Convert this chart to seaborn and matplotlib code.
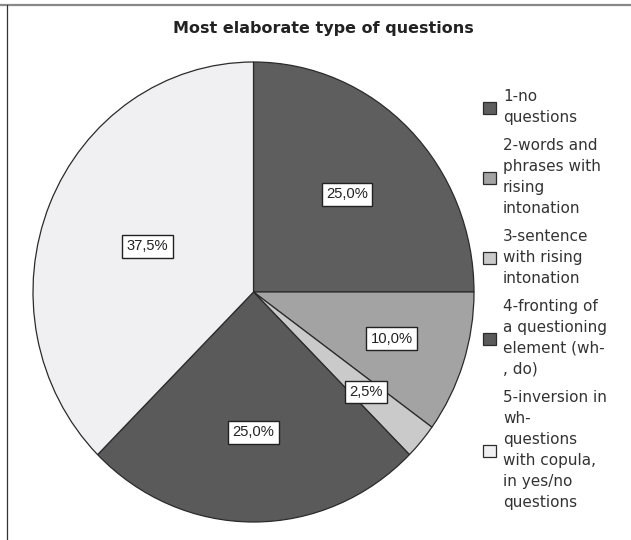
import matplotlib
matplotlib.use("Agg")
import matplotlib.pyplot as plt
from matplotlib.lines import Line2D
import numpy as np
import seaborn as sns

# data
categories = [
    "1-no\nquestions",
    "2-words and\nphrases with\nrising\nintonation",
    "3-sentence\nwith rising\nintonation",
    "4-fronting of\na questioning\nelement (wh-\n, do)",
    "5-inversion in\nwh-\nquestions\nwith copula,\nin yes/no\nquestions",
]
shares = [25.0, 10.0, 2.5, 25.0, 37.5]
pct_labels = ["25,0%", "10,0%", "2,5%", "25,0%", "37,5%"]

# styling
colors = ["#5e5e5e", "#a3a3a3", "#cacaca", "#5a5a5a", "#f0f0f2"]
label_dist = [0.60, 0.66, 0.67, 0.61, 0.52]

sns.set_style("white")
plt.rcParams["font.family"] = ["DejaVu Sans"]

W, H = 631, 540
fig = plt.figure(figsize=(W / 100, H / 100), dpi=100)

# pie area in pixels (slightly taller than wide, as in the picture)
cx, cy, rx, ry = 253.5, 292, 220.5, 230
ax = fig.add_axes([(cx - rx) / W, 1 - (cy + ry) / H, 2 * rx / W, 2 * ry / H])

wedges, _ = ax.pie(shares, colors=colors, startangle=90, counterclock=False,
                   wedgeprops=dict(edgecolor="#2b2b2b", linewidth=0.9))
ax.set_aspect("auto")
ax.set_xlim(-1, 1)
ax.set_ylim(-1, 1)

# percentage boxes placed along each wedge's middle angle
for w, lab, d in zip(wedges, pct_labels, label_dist):
    mid = np.deg2rad((w.theta1 + w.theta2) / 2)
    ax.text(d * np.cos(mid), d * np.sin(mid), lab, ha="center", va="center",
            fontsize=10.6, family=["Liberation Sans", "DejaVu Sans"], color="#222222",
            bbox=dict(boxstyle="square,pad=0.3", facecolor="white",
                      edgecolor="#222222", linewidth=1.0))

leg = ax.legend(wedges, categories, loc="upper left",
                bbox_to_anchor=(483 / W, 1 - 89 / H), bbox_transform=fig.transFigure,
                frameon=False, fontsize=11, handlelength=0.85, handleheight=0.85,
                handletextpad=0.45, labelspacing=0.85, borderpad=0, borderaxespad=0)
for t in leg.get_texts():
    t.set_linespacing(1.5)
    t.set_color("#333333")

fig.text(323.5 / W, 1 - 28 / H, "Most elaborate type of questions",
         ha="center", va="center", fontsize=11.5, fontweight="bold", color="#222222")

# frame lines around the figure
fig.add_artist(Line2D([0, 1], [1 - 4.5 / H, 1 - 4.5 / H], transform=fig.transFigure,
                      color="#888888", linewidth=1.6))
fig.add_artist(Line2D([6.5 / W, 6.5 / W], [0, 1 - 4.5 / H], transform=fig.transFigure,
                      color="#333333", linewidth=0.9))

fig.savefig("out.png", dpi=100)
